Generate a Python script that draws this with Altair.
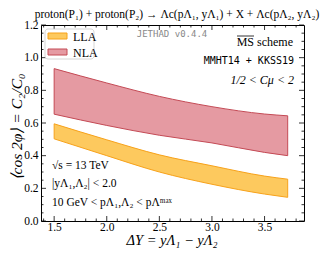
import altair as alt
import pandas as pd
import numpy as np

# ---- data ----
dy     = [1.5, 2.0, 2.5, 3.0, 3.5, 3.72]
nla_hi = [0.933, 0.845, 0.763, 0.700, 0.655, 0.644]
nla_lo = [0.654, 0.585, 0.525, 0.478, 0.420, 0.400]
lla_hi = [0.595, 0.497, 0.405, 0.338, 0.275, 0.256]
lla_lo = [0.503, 0.400, 0.300, 0.225, 0.165, 0.145]

x_major = [1.5, 2.0, 2.5, 3.0, 3.5]
y_major = [0.0, 0.2, 0.4, 0.6, 0.8, 1.0, 1.2]
x_minor = [round(v, 2) for v in np.arange(1.4, 3.85, 0.1) if round(v, 2) not in x_major]
y_minor = [round(v, 2) for v in np.arange(0.05, 1.2, 0.05) if min(abs(v - m) for m in y_major) > 1e-6]

W, H = 263, 196
SERIF = "Liberation Serif"
MONO = "DejaVu Sans Mono"

xs = alt.Scale(domain=[1.375, 3.875], nice=False, zero=False)
ys = alt.Scale(domain=[0.0, 1.2], nice=False, zero=False)

XAX = alt.Axis(values=x_major, format=".1f", ticks=False, domain=False, grid=False,
               labelFont=SERIF, labelFontSize=11.5, labelColor="black", labelPadding=0,
               title=None)
YAX = alt.Axis(values=y_major, format=".1f", ticks=False, domain=False, grid=False,
               labelFont=SERIF, labelFontSize=11.5, labelColor="black", labelPadding=3,
               title=None)

df_nla = pd.DataFrame({"dy": dy, "lo": nla_lo, "hi": nla_hi})
df_lla = pd.DataFrame({"dy": dy, "lo": lla_lo, "hi": lla_hi})

nla = alt.Chart(df_nla).mark_area(
    fill="#e59aa2", stroke="#c44a55", strokeWidth=1, interpolate="monotone"
).encode(
    x=alt.X("dy:Q", scale=xs, axis=XAX),
    y=alt.Y("lo:Q", scale=ys, axis=YAX),
    y2="hi:Q",
)

lla = alt.Chart(df_lla).mark_area(
    fill="#fdc95e", stroke="#f7a21b", strokeWidth=1, interpolate="monotone"
).encode(
    x=alt.X("dy:Q", scale=xs, axis=XAX),
    y=alt.Y("lo:Q", scale=ys, axis=YAX),
    y2="hi:Q",
)

def xticks(vals, size):
    d = pd.DataFrame({"dy": vals})
    bot = alt.Chart(d).mark_rule(color="black", strokeWidth=0.8).encode(
        x=alt.X("dy:Q", scale=xs, axis=XAX), y=alt.value(H), y2=alt.value(H - size))
    top = alt.Chart(d).mark_rule(color="black", strokeWidth=0.8).encode(
        x=alt.X("dy:Q", scale=xs, axis=XAX), y=alt.value(0), y2=alt.value(size))
    return [bot, top]

def yticks(vals, size):
    d = pd.DataFrame({"lo": vals})
    left = alt.Chart(d).mark_rule(color="black", strokeWidth=0.8).encode(
        y=alt.Y("lo:Q", scale=ys, axis=YAX), x=alt.value(0), x2=alt.value(size))
    right = alt.Chart(d).mark_rule(color="black", strokeWidth=0.8).encode(
        y=alt.Y("lo:Q", scale=ys, axis=YAX), x=alt.value(W), x2=alt.value(W - size))
    return [left, right]

ticks = xticks(x_major, 5) + xticks(x_minor, 2.5) + yticks(y_major, 5) + yticks(y_minor, 2.5)

def txt(s, x, y, size=11, font=SERIF, align="left", style="normal", color="black", angle=0):
    kw = dict(text=s, font=font, fontSize=size, align=align, baseline="middle",
              fontStyle=style, fontWeight="normal", color=color)
    if angle:
        kw["angle"] = angle
    return alt.Chart(pd.DataFrame({"a": [0]})).mark_text(**kw).encode(
        x=alt.value(x), y=alt.value(y))

def box(x1, x2, y1, y2, fill, stroke, sw=1, r=0):
    return alt.Chart(pd.DataFrame({"a": [0]})).mark_rect(
        fill=fill, stroke=stroke, strokeWidth=sw, cornerRadius=r
    ).encode(x=alt.value(x1), x2=alt.value(x2), y=alt.value(y1), y2=alt.value(y2))

legend = [
    box(4, 53, 4, 34, "white", "#cccccc", 0.8, 3),
    box(7, 26, 8, 14, "#fdc95e", "#f7a21b", 1),
    box(7, 26, 24, 30, "#e59aa2", "#c44a55", 1),
    txt("LLA", 32, 11.5, 12),
    txt("NLA", 32, 27.5, 12),
]

overline = alt.Chart(pd.DataFrame({"a": [0]})).mark_rule(color="black", strokeWidth=0.8).encode(
    x=alt.value(196), x2=alt.value(213), y=alt.value(11))

texts = [
    txt("proton(P₁) + proton(P₂) → Λc(pΛ₁, yΛ₁) + X + Λc(pΛ₂, yΛ₂)", 136, -10, 11.5, align="center"),
    txt("JETHAD v0.4.4", 131, 9, 9, font=MONO, align="center", color="#888888"),
    txt("MS scheme", 252, 17, 12, align="right"),
    txt("MMHT14 + KKSS19", 253, 36, 10, font=MONO, align="right"),
    txt("1/2 < Cμ < 2", 253, 55, 12, align="right", style="italic"),
    txt("√s = 13 TeV", 11, 141, 11.5),
    txt("|yΛ₁,Λ₂| < 2.0", 11, 159, 11.5),
    txt("10 GeV < pΛ₁,Λ₂ < pΛᵐᵃˣ", 11, 178, 11.5),
    txt("ΔY = yΛ₁ − yΛ₂", 131, 216, 14.5, align="center", style="italic"),
    txt("⟨cos 2φ⟩ = C₂/C₀", -24, 102, 15.5, align="center", style="italic", angle=270),
]

chart = alt.layer(nla, lla, *ticks, *legend, overline, *texts).properties(
    width=W, height=H,
    autosize=alt.AutoSizeParams(type="none"),
    padding={"left": 33, "top": 17, "right": 17, "bottom": 30},
).configure_view(stroke="black", strokeWidth=1)

chart.save("out.html", embed_options={"renderer": "svg", "actions": False})
